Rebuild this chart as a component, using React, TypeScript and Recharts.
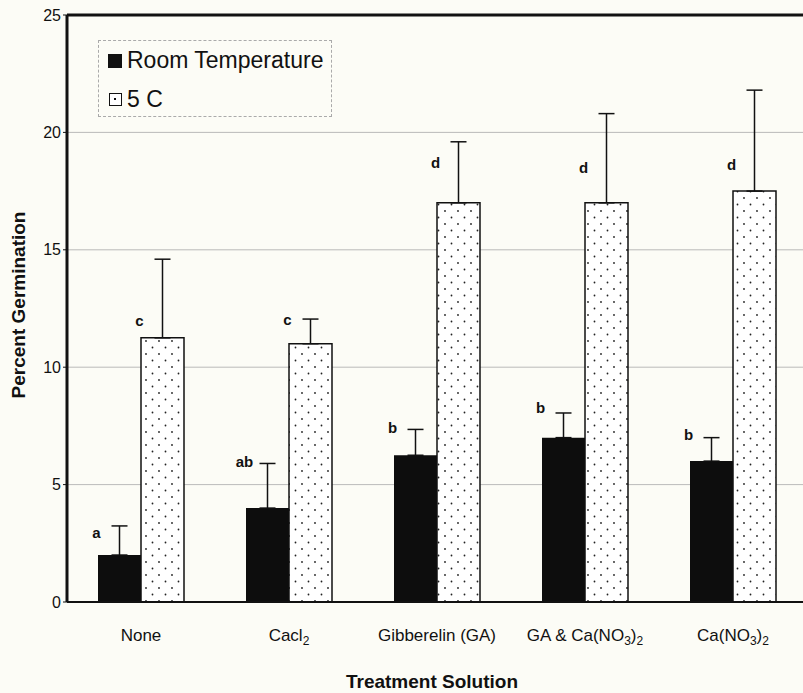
import {
  Bar,
  BarChart,
  CartesianGrid,
  ErrorBar,
  LabelList,
  ReferenceLine,
  XAxis,
  YAxis,
} from 'recharts'

const categories = ['None', 'Cacl2', 'Gibberelin (GA)', 'GA & Ca(NO3)2', 'Ca(NO3)2']
const roomTemp = [2.0, 4.0, 6.25, 7.0, 6.0]
const roomTempErr = [1.24, 1.9, 1.1, 1.05, 1.0]
const cold = [11.25, 11.0, 17.0, 17.0, 17.5]
const coldErr = [3.35, 1.05, 2.6, 3.8, 4.3]
const roomLetters = ['a', 'ab', 'b', 'b', 'b']
const roomLetterAt = [2.95, 6.0, 7.45, 8.3, 7.15]
const coldLetters = ['c', 'c', 'd', 'd', 'd']
const coldLetterAt = [12.0, 12.05, 18.7, 18.5, 18.65]
const yTicks = [0, 5, 10, 15, 20, 25]

const FONT = '"Liberation Sans", Arial, Helvetica, sans-serif'
const BG = '#fcfcf6'

const data = categories.map((name, i) => ({
  name,
  room: roomTemp[i],
  roomErr: [0, roomTempErr[i]],
  roomLetter: roomLetters[i],
  cold: cold[i],
  coldErr: [0, coldErr[i]],
  coldLetter: coldLetters[i],
}))

// digits in the category names are chemical subscripts
function CategoryTick(props: any) {
  const { x, y, payload } = props
  const parts = String(payload.value).split(/(\d)/).filter((p) => p !== '')
  let sub = false
  return (
    <text x={x} y={y + 31} textAnchor="middle" fontSize={17} fontFamily={FONT} fill="#111">
      {parts.map((p, i) => {
        const isSub = /^\d$/.test(p)
        const dy = isSub && !sub ? 4 : !isSub && sub ? -4 : 0
        sub = isSub
        return (
          <tspan key={i} dy={dy} fontSize={isSub ? 12 : 17}>
            {p}
          </tspan>
        )
      })}
    </text>
  )
}

function letterLabel(values: number[], positions: number[]) {
  return (props: any) => {
    const { x, y, width, height, value, index } = props
    const bottom = y + height
    const perUnit = height / values[index]
    const ly = bottom - positions[index] * perUnit
    return (
      <text
        x={x + width / 2 - 23}
        y={ly}
        textAnchor="middle"
        dominantBaseline="central"
        fontSize={15}
        fontWeight="bold"
        fontFamily={FONT}
        fill="#111"
      >
        {value}
      </text>
    )
  }
}

function Legend() {
  return (
    <div
      style={{
        position: 'absolute',
        left: 98,
        top: 40,
        width: 234,
        height: 77,
        border: '1px dashed #aaa',
        boxSizing: 'border-box',
        fontFamily: FONT,
        fontSize: 23,
        color: '#111',
      }}
    >
      <div style={{ position: 'absolute', left: 9, top: 13, width: 14, height: 14, background: '#111' }} />
      <div style={{ position: 'absolute', left: 28, top: 6, lineHeight: '26px' }}>Room Temperature</div>
      <div
        style={{
          position: 'absolute',
          left: 10,
          top: 52,
          width: 11,
          height: 11,
          border: '1.5px solid #111',
          background: '#fff',
        }}
      >
        <div style={{ position: 'absolute', left: 4, top: 4, width: 2, height: 2, background: '#111' }} />
      </div>
      <div style={{ position: 'absolute', left: 28, top: 45, lineHeight: '26px' }}>5 C</div>
    </div>
  )
}

export default function App() {
  return (
    <div
      style={{
        position: 'absolute',
        left: 0,
        top: 0,
        width: 803,
        height: 693,
        overflow: 'hidden',
        background: BG,
      }}
    >
      <BarChart
        width={810}
        height={693}
        data={data}
        margin={{ top: 15, right: 3, left: 0, bottom: 0 }}
        barSize={43}
        barGap={0}
      >
        <defs>
          <pattern id="dots" patternUnits="userSpaceOnUse" width={13} height={13}>
            <rect width={13} height={13} fill="#fff" />
            <circle cx={3} cy={3} r={0.9} fill="#222" />
            <circle cx={9.5} cy={9.5} r={0.9} fill="#222" />
          </pattern>
        </defs>
        <CartesianGrid vertical={false} stroke="#aaa" strokeWidth={0.8} />
        <XAxis
          dataKey="name"
          height={91}
          axisLine={{ stroke: '#111', strokeWidth: 2 }}
          tickLine={false}
          tick={<CategoryTick />}
          interval={0}
          label={{
            content: () => (
              <text
                x={432}
                y={688}
                textAnchor="middle"
                fontSize={19}
                fontWeight="bold"
                fontFamily={FONT}
                fill="#111"
              >
                Treatment Solution
              </text>
            ),
          }}
        />
        <YAxis
          width={67}
          domain={[0, 25]}
          ticks={yTicks}
          interval={0}
          axisLine={{ stroke: '#111', strokeWidth: 3 }}
          tickLine={{ stroke: '#111' }}
          tickSize={4}
          tick={{ fill: '#111', fontSize: 16, fontFamily: FONT }}
          label={{
            content: () => (
              <text
                x={25}
                y={305}
                transform="rotate(-90 25 305)"
                textAnchor="middle"
                fontSize={19}
                fontWeight="bold"
                fontFamily={FONT}
                fill="#111"
              >
                Percent Germination
              </text>
            ),
          }}
        />
        <ReferenceLine y={25} stroke="#111" strokeWidth={3} />
        <Bar dataKey="room" fill="#0d0d0d" isAnimationActive={false}>
          <ErrorBar dataKey="roomErr" width={8} stroke="#111" strokeWidth={1.5} direction="y" />
          <LabelList dataKey="roomLetter" content={letterLabel(roomTemp, roomLetterAt)} />
        </Bar>
        <Bar dataKey="cold" fill="url(#dots)" stroke="#111" strokeWidth={1.5} isAnimationActive={false}>
          <ErrorBar dataKey="coldErr" width={8} stroke="#111" strokeWidth={1.5} direction="y" />
          <LabelList dataKey="coldLetter" content={letterLabel(cold, coldLetterAt)} />
        </Bar>
      </BarChart>
      <Legend />
    </div>
  )
}
